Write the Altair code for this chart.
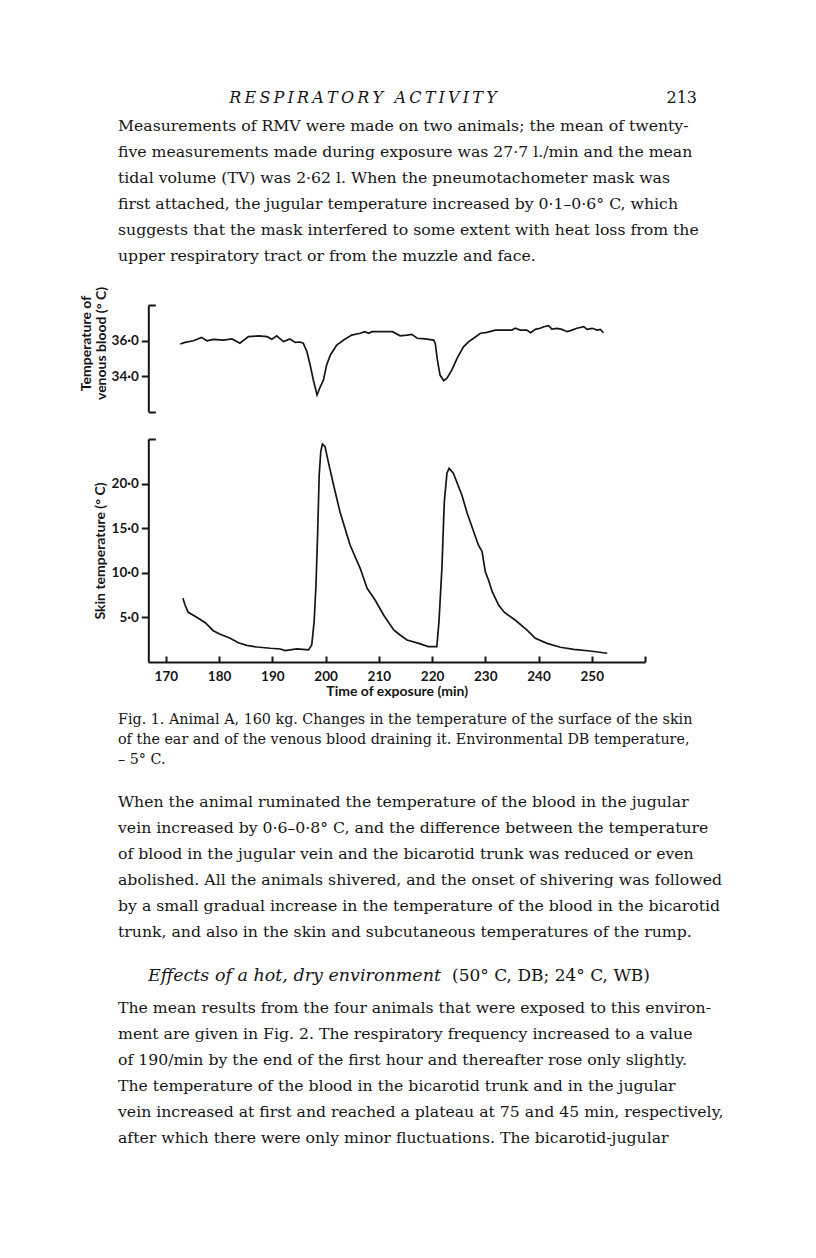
import altair as alt
import pandas as pd

W, H = 800, 1242

# ---------------- data ----------------
venous_time = [172.7, 173.6, 175.2, 176.7, 177.7, 178.9, 180.8, 182.4, 183.9, 185.5,
               187.4, 189.0, 189.9, 190.8, 192.1, 193.3, 194.3, 195.2, 195.8, 196.5,
               197.1, 197.7, 198.4, 199.0, 199.6, 200.2, 200.9, 202.1, 203.4, 204.9,
               206.5, 207.4, 208.1, 208.7, 210.3, 212.6, 214.0, 215.3, 216.2, 217.2,
               218.7, 220.3, 220.6, 221.0, 221.5, 222.2, 222.8, 223.7, 224.7, 225.9,
               226.9, 227.8, 229.1, 230.3, 231.9, 233.4, 235.0, 235.6, 236.6, 237.8,
               238.5, 239.4, 240.3, 241.0, 241.9, 242.5, 243.5, 244.4, 245.4, 246.3,
               247.2, 248.5, 249.1, 250.1, 251.0, 251.6, 252.2]
venous_temp = [35.81, 35.90, 35.99, 36.18, 35.99, 36.07, 36.03, 36.09, 35.85, 36.22,
               36.26, 36.22, 36.07, 36.27, 35.94, 36.09, 35.90, 35.92, 35.85, 35.37,
               34.63, 33.78, 32.94, 33.40, 33.78, 34.63, 35.19, 35.75, 36.03, 36.31,
               36.41, 36.50, 36.41, 36.50, 36.50, 36.50, 36.27, 36.31, 36.35, 36.13,
               36.09, 36.03, 35.85, 34.91, 34.06, 33.74, 33.88, 34.34, 35.00, 35.65,
               35.94, 36.13, 36.41, 36.46, 36.59, 36.59, 36.59, 36.69, 36.59, 36.59,
               36.44, 36.63, 36.69, 36.78, 36.84, 36.65, 36.69, 36.63, 36.50, 36.59,
               36.69, 36.78, 36.63, 36.69, 36.59, 36.63, 36.44]

skin_time = [173.2, 173.6, 174.2, 175.8, 177.4, 178.9, 180.2, 182.1, 183.6, 185.2,
             187.1, 189.6, 191.5, 192.4, 194.6, 196.8, 197.4, 197.85, 198.2, 198.5,
             198.8, 199.1, 199.4, 199.9, 200.5, 201.5, 202.7, 204.6, 206.5, 207.8,
             209.3, 210.9, 212.8, 214.0, 215.3, 217.5, 219.3, 220.9, 221.3, 221.85,
             222.3, 222.8, 223.2, 224.0, 225.6, 226.6, 228.7, 229.4, 230.0, 230.6,
             231.3, 232.5, 233.6, 235.6, 237.8, 239.4, 241.6, 244.1, 246.6, 249.7,
             252.9]
skin_temp = [7.14, 6.39, 5.57, 5.01, 4.41, 3.51, 3.10, 2.66, 2.16, 1.87,
             1.68, 1.54, 1.46, 1.27, 1.46, 1.35, 1.91, 4.52, 8.63, 14.24,
             20.96, 23.58, 24.44, 24.14, 22.46, 19.84, 16.85, 13.12, 10.50, 8.26,
             6.95, 5.27, 3.59, 3.03, 2.47, 2.09, 1.72, 1.72, 4.52, 10.50,
             17.97, 21.16, 21.71, 21.16, 18.72, 16.67, 13.12, 12.37, 10.12, 9.19,
             7.88, 6.39, 5.55, 4.71, 3.59, 2.66, 2.09, 1.65, 1.42, 1.23,
             0.98]

time_ticks = [170, 180, 190, 200, 210, 220, 230, 240, 250]
time_end = [260]
venous_ticks = [34.0, 36.0]
venous_ends = [32.0, 38.0]
skin_ticks = [5.0, 10.0, 15.0, 20.0]
skin_end = [25.0]

# ---------------- page text ----------------
header = "RESPIRATORY ACTIVITY"
page_no = "213"
para1 = [
    "Measurements of RMV were made on two animals; the mean of twenty-",
    "five measurements made during exposure was 27·7 l./min and the mean",
    "tidal volume (TV) was 2·62 l. When the pneumotachometer mask was",
    "first attached, the jugular temperature increased by 0·1–0·6° C, which",
    "suggests that the mask interfered to some extent with heat loss from the",
    "upper respiratory tract or from the muzzle and face.",
]
caption = [
    "Fig. 1.  Animal A, 160 kg.  Changes in the temperature of the surface of the skin",
    "of the ear and of the venous blood draining it.  Environmental DB temperature,",
    "– 5° C.",
]
para2 = [
    "When the animal ruminated the temperature of the blood in the jugular",
    "vein increased by 0·6–0·8° C, and the difference between the temperature",
    "of blood in the jugular vein and the bicarotid trunk was reduced or even",
    "abolished. All the animals shivered, and the onset of shivering was followed",
    "by a small gradual increase in the temperature of the blood in the bicarotid",
    "trunk, and also in the skin and subcutaneous temperatures of the rump.",
]
heading_it = "Effects of a hot, dry environment"
heading_rest = "(50° C, DB; 24° C, WB)"
para3 = [
    "The mean results from the four animals that were exposed to this environ-",
    "ment are given in Fig. 2. The respiratory frequency increased to a value",
    "of 190/min by the end of the first hour and thereafter rose only slightly.",
    "The temperature of the blood in the bicarotid trunk and in the jugular",
    "vein increased at first and reached a plateau at 75 and 45 min, respectively,",
    "after which there were only minor fluctuations. The bicarotid-jugular",
]

LEFT, RIGHT = 118, 697
para1_y = [126, 152, 178, 204, 230, 256]
caption_y = [720, 740, 760]
para2_y = [802, 828, 854, 880, 906, 932]
para3_y = [1008, 1034, 1060, 1086, 1112, 1138]

SERIF = "DejaVu Serif"
SANS = "Lato"
INK = "#151515"

px = alt.Scale(domain=[8, 8 + W], range=[0, W], nice=False, zero=False)
py = alt.Scale(domain=[8, 8 + H], range=[0, H], nice=False, zero=False)


def text_layer(rows, size, style="normal", align="left"):
    df = pd.DataFrame(rows, columns=["t", "x", "y"])
    return alt.Chart(df).mark_text(
        font=SERIF, fontSize=size, fontStyle=style, align=align,
        baseline="middle", color=INK
    ).encode(
        x=alt.X("x:Q", scale=px, axis=None),
        y=alt.Y("y:Q", scale=py, axis=None),
        text="t:N",
    )


body_rows = []
for lines, ys in ((para1, para1_y), (para2, para2_y), (para3, para3_y)):
    body_rows += [(t, LEFT, y) for t, y in zip(lines, ys)]
body = text_layer(body_rows, 15.7)
pageno = text_layer([(page_no, RIGHT, 98)], 16, align="right")
caption_layer = text_layer([(t, LEFT, y) for t, y in zip(caption, caption_y)], 14.3)
spaced_header = "\u2009".join(header)
header_layer = text_layer([(spaced_header, 363, 98)], 16, style="italic", align="center")
italic_head = text_layer([(heading_it, 148, 976)], 17.5, style="italic")
head_rest = text_layer([(heading_rest, 452, 976)], 17)

# ---------------- figure ----------------
X0, X1 = 148.3 - 8, 645 - 8
xs = alt.Scale(domain=[166.7, 260], range=[X0, X1], nice=False, zero=False)
top_ys = alt.Scale(domain=[32, 38], range=[411.7 - 8, 305 - 8], nice=False, zero=False)
bot_ys = alt.Scale(domain=[0, 25], range=[662 - 8, 439 - 8], nice=False, zero=False)
AXIS_Y_BOTTOM = 662 - 8

label_expr = "replace(format(datum.value, '.1f'), '.', '·')"
common = dict(grid=False, domainColor=INK, domainWidth=2, tickColor=INK, tickWidth=2,
              labelFont=SANS, labelFontWeight="bold", labelFontSize=13.5, labelColor=INK,
              titleFont=SANS, titleFontWeight="bold", titleFontSize=14, titleColor=INK)

venous_df = pd.DataFrame({"time": venous_time, "temp": venous_temp})
skin_df = pd.DataFrame({"time": skin_time, "temp": skin_temp})

top_line = alt.Chart(venous_df).mark_line(color=INK, strokeWidth=1.7).encode(
    x=alt.X("time:Q", scale=xs, axis=None),
    y=alt.Y("temp:Q", scale=top_ys, axis=alt.Axis(
        orient="left", offset=-X0, values=venous_ticks, labelExpr=label_expr,
        tickSize=7, labelPadding=3, title=["Temperature of", "venous blood (° C)"],
        titlePadding=3, titleY=343 - 8, titleLineHeight=15, **common)),
)
top_caps = alt.Chart(venous_df).mark_line(opacity=0).encode(
    x=alt.X("time:Q", scale=xs, axis=None),
    y=alt.Y("temp:Q", scale=top_ys, axis=alt.Axis(
        orient="right", offset=X0 - W, values=venous_ends, labels=False, domain=False,
        tickSize=7, title=None, **common)),
)
bot_line = alt.Chart(skin_df).mark_line(color=INK, strokeWidth=1.7).encode(
    x=alt.X("time:Q", scale=xs, axis=alt.Axis(
        orient="bottom", offset=AXIS_Y_BOTTOM - H, values=time_ticks, ticks=False,
        labelPadding=7, title="Time of exposure (min)", titlePadding=2, **common)),
    y=alt.Y("temp:Q", scale=bot_ys, axis=alt.Axis(
        orient="left", offset=-X0, values=skin_ticks, labelExpr=label_expr,
        tickSize=7, labelPadding=3, title="Skin temperature (° C)", titlePadding=4, **common)),
)
bot_xticks = alt.Chart(skin_df).mark_line(opacity=0).encode(
    x=alt.X("time:Q", scale=xs, axis=alt.Axis(
        orient="top", offset=-AXIS_Y_BOTTOM, values=time_ticks + time_end, labels=False,
        domain=False, tickSize=6, title=None, **common)),
    y=alt.Y("temp:Q", scale=bot_ys, axis=alt.Axis(
        orient="right", offset=X0 - W, values=skin_end, labels=False, domain=False,
        tickSize=7, title=None, **common)),
)

chart = alt.layer(
    body, pageno, caption_layer, header_layer, italic_head, head_rest,
    top_line, top_caps, bot_line, bot_xticks,
).resolve_scale(x="independent", y="independent").properties(
    width=W, height=H, padding=0, autosize=alt.AutoSizeParams(type="none"),
    background="white",
).configure_view(stroke=None)

chart.save("out.html", embed_options={"renderer": "svg", "actions": False})
